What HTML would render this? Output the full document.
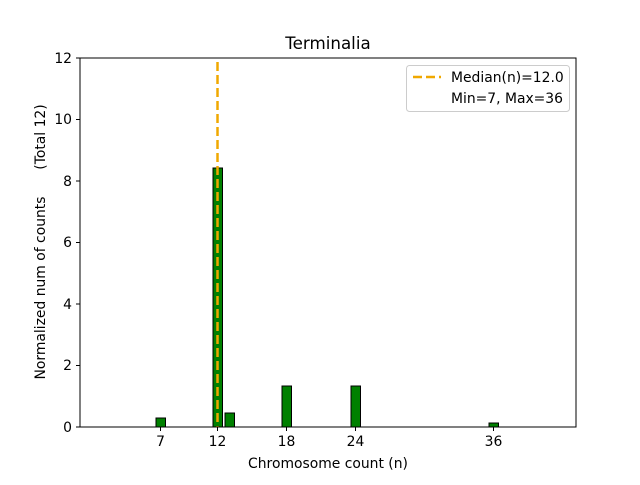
<!DOCTYPE html>
<html><head><style>body{margin:0;background:#fff}</style></head><body>
<svg width="640" height="480" xmlns="http://www.w3.org/2000/svg" font-family="DejaVu Sans, Liberation Sans, sans-serif">
<rect width="640" height="480" fill="#fff"/>
<g fill="#008000" stroke="#000" stroke-width="1">
<rect x="156" y="418" width="9.5" height="9"/>
<rect x="213" y="168" width="9.5" height="259"/>
<rect x="225" y="413" width="9.5" height="14"/>
<rect x="282" y="386" width="9.5" height="41"/>
<rect x="351" y="386" width="9.5" height="41"/>
<rect x="489" y="423" width="9.5" height="4"/>
</g>
<line x1="217.5" y1="62" x2="217.5" y2="427" stroke="#f0a800" stroke-width="2.5" stroke-dasharray="9,4"/>
<rect x="80" y="58" width="496" height="369" fill="none" stroke="#000" stroke-width="1"/>
<g stroke="#000">
<line x1="160.5" y1="427" x2="160.5" y2="431"/><line x1="217.5" y1="427" x2="217.5" y2="431"/>
<line x1="286.5" y1="427" x2="286.5" y2="431"/><line x1="355.5" y1="427" x2="355.5" y2="431"/>
<line x1="493.5" y1="427" x2="493.5" y2="431"/>
<line x1="76" y1="427" x2="80" y2="427"/><line x1="76" y1="365.5" x2="80" y2="365.5"/>
<line x1="76" y1="304" x2="80" y2="304"/><line x1="76" y1="242.5" x2="80" y2="242.5"/>
<line x1="76" y1="181" x2="80" y2="181"/><line x1="76" y1="119.5" x2="80" y2="119.5"/>
<line x1="76" y1="58" x2="80" y2="58"/>
</g>
<g font-size="13.9" text-anchor="middle">
<text x="160.5" y="446">7</text><text x="217.5" y="446">12</text><text x="286.5" y="446">18</text>
<text x="355.5" y="446">24</text><text x="493.5" y="446">36</text>
</g>
<g font-size="13.9" text-anchor="end">
<text x="72" y="432">0</text><text x="72" y="370">2</text><text x="72" y="309">4</text>
<text x="72" y="247">6</text><text x="72" y="186">8</text><text x="72" y="124">10</text><text x="72" y="63">12</text>
</g>
<text x="328" y="468" font-size="13.9" text-anchor="middle">Chromosome count (n)</text>
<text x="328" y="49" font-size="16.7" text-anchor="middle">Terminalia</text>
<text transform="translate(45,288) rotate(-90)" font-size="13.9" text-anchor="middle">Normalized num of counts</text>
<text transform="translate(45,137) rotate(-90)" font-size="13.9" text-anchor="middle">(Total 12)</text>
<rect x="406.5" y="65.5" width="163" height="46" rx="3" fill="#fff" stroke="#ccc"/>
<line x1="413" y1="77" x2="441" y2="77" stroke="#f0a800" stroke-width="2.5" stroke-dasharray="9,4"/>
<text x="451" y="82" font-size="13.9">Median(n)=12.0</text>
<text x="451" y="103" font-size="13.9">Min=7, Max=36</text>
</svg>
</body></html>
